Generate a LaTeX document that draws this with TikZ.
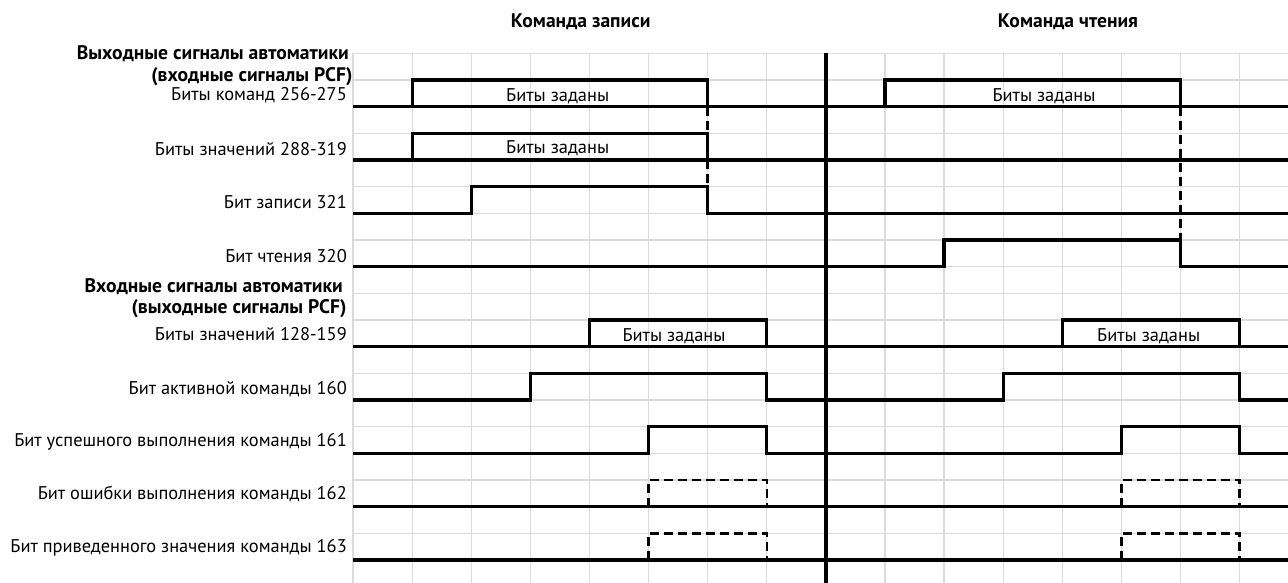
\documentclass[tikz,border=0pt]{standalone}
\usepackage{fontspec}
\setmainfont{PT Sans}
\begin{document}
\begin{tikzpicture}[x=1pt,y=-1pt,
  gridline/.style={draw=black!14,line width=1.2pt},
  sig/.style={draw=black,line width=3.2pt,line join=miter},
  sep/.style={draw=black,line width=3.6pt},
  dsig/.style={draw=black,line width=2.4pt,dash pattern=on 9pt off 5pt},
  lbl/.style={anchor=base east,inner sep=0pt,font=\fontsize{18.4}{21}\selectfont},
  blbl/.style={anchor=base east,inner sep=0pt,font=\fontsize{19.6}{22}\selectfont\bfseries},
  hdr/.style={anchor=base,inner sep=0pt,font=\fontsize{19.6}{22}\selectfont\bfseries},
  busl/.style={anchor=base,inner sep=0pt,font=\fontsize{18.4}{21}\selectfont}]
\useasboundingbox (0,0) rectangle (1288,583);
% grid
\foreach \k in {0,...,15} \draw[gridline] ({353+59.1*\k},53.33) -- ({353+59.1*\k},583);
\foreach \r in {2,...,21} \draw[gridline] (353,{26.667*\r}) -- (1288,{26.667*\r});
% headers
\node[hdr] (hw) at (580.7,27.5) {Команда записи};
\node[hdr] (hr) at (1068,27.5) {Команда чтения};
% labels
\node[blbl] (g1a) at (349,59.5) {Выходные сигналы автоматики};
\node[blbl] (g1b) at (352.7,81.5) {(входные сигналы PCF)};
\node[lbl] (l1) at (347,100.7) {Биты команд 256-275};
\node[lbl] (l2) at (347,155.5) {Биты значений 288-319};
\node[lbl] (l3) at (347,208.5) {Бит записи 321};
\node[lbl] (l4) at (347,262) {Бит чтения 320};
\node[blbl] (g2a) at (343,292.3) {Входные сигналы автоматики};
\node[blbl] (g2b) at (346.7,313.5) {(выходные сигналы PCF)};
\node[lbl] (l5) at (347,340) {Биты значений 128-159};
\node[lbl] (l6) at (347,394) {Бит активной команды 160};
\node[lbl] (l7) at (347,446) {Бит успешного выполнения команды 161};
\node[lbl] (l8) at (347,499) {Бит ошибки выполнения команды 162};
\node[lbl] (l9) at (347,552.7) {Бит приведенного значения команды 163};
% separator
\draw[sep] (825.8,53.33) -- (825.8,583);
% dashed links
\draw[dsig] (707.6,106.67) -- (707.6,133.33);
\draw[dsig] (707.6,160) -- (707.6,186.67);
\draw[dsig] (1180.4,106.67) -- (1180.4,240);
% Биты команд 256-275
\draw[sig] (353,106.67) -- (1288,106.67);
\draw[sig] (412.1,106.67) -- (412.1,80) -- (707.6,80) -- (707.6,106.67);
\draw[sig] (884.9,106.67) -- (884.9,80) -- (1180.4,80) -- (1180.4,106.67);
% Биты значений 288-319
\draw[sig] (353,160) -- (1288,160);
\draw[sig] (412.1,160) -- (412.1,133.33) -- (707.6,133.33) -- (707.6,160);
% Бит записи 321
\draw[sig] (353,213.33) -- (471.2,213.33) -- (471.2,186.67) -- (707.6,186.67) -- (707.6,213.33) -- (1288,213.33);
% Бит чтения 320
\draw[sig] (353,266.67) -- (944,266.67) -- (944,240) -- (1180.4,240) -- (1180.4,266.67) -- (1288,266.67);
% Биты значений 128-159
\draw[sig] (353,346.67) -- (1288,346.67);
\draw[sig] (589.4,346.67) -- (589.4,320) -- (766.7,320) -- (766.7,346.67);
\draw[sig] (1062.2,346.67) -- (1062.2,320) -- (1239.5,320) -- (1239.5,346.67);
% Бит активной команды 160
\draw[sig] (353,400) -- (530.3,400) -- (530.3,373.33) -- (766.7,373.33) -- (766.7,400) -- (1003.1,400) -- (1003.1,373.33) -- (1239.5,373.33) -- (1239.5,400) -- (1288,400);
% Бит успешного 161
\draw[sig] (353,453.33) -- (648.5,453.33) -- (648.5,426.67) -- (766.7,426.67) -- (766.7,453.33) -- (1121.3,453.33) -- (1121.3,426.67) -- (1239.5,426.67) -- (1239.5,453.33) -- (1288,453.33);
% Бит ошибки 162
\draw[sig] (353,506.67) -- (1288,506.67);
\draw[dsig] (648.5,506.67) -- (648.5,480) -- (766.7,480) -- (766.7,506.67);
\draw[dsig] (1121.3,506.67) -- (1121.3,480) -- (1239.5,480) -- (1239.5,506.67);
% Бит приведенного 163
\draw[sig] (353,560) -- (1288,560);
\draw[dsig] (648.5,560) -- (648.5,533.33) -- (766.7,533.33) -- (766.7,560);
\draw[dsig] (1121.3,560) -- (1121.3,533.33) -- (1239.5,533.33) -- (1239.5,560);
% bus texts
\node[busl] (b1) at (557.7,101.5) {Биты заданы};
\node[busl] (b2) at (557.7,153.3) {Биты заданы};
\node[busl] (b3) at (1044,101.5) {Биты заданы};
\node[busl] (b4) at (674,341.7) {Биты заданы};
\node[busl] (b5) at (1148.7,341.7) {Биты заданы};
\end{tikzpicture}
\end{document}
